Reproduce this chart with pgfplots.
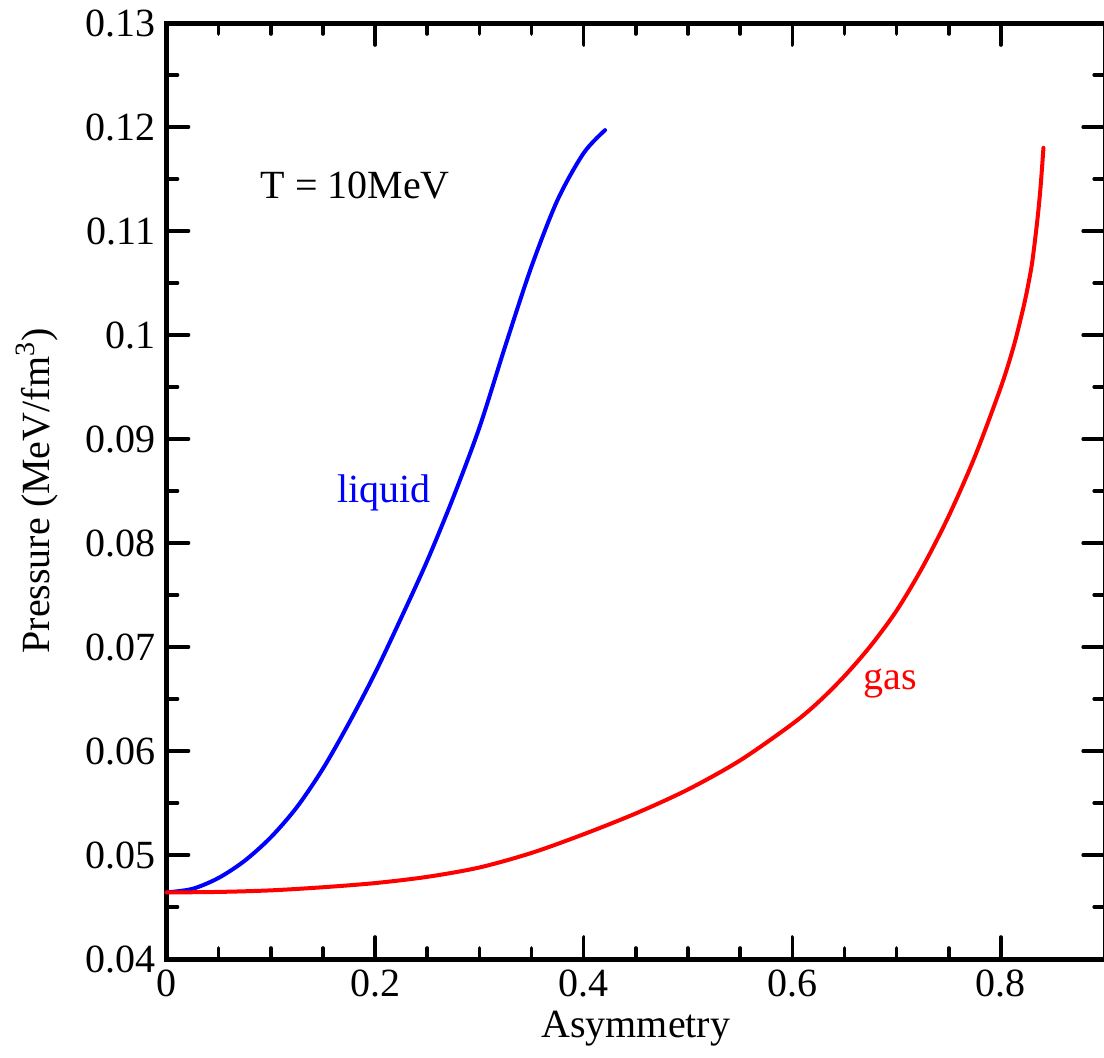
\documentclass[border=0pt]{standalone}
\usepackage{fontspec}
\setmainfont{Liberation Serif}
\usepackage{pgfplots}
\pgfplotsset{compat=1.18}
\usetikzlibrary{calc}

\begin{document}
\begin{tikzpicture}
\begin{axis}[
    scale only axis,
    width=469.35pt, height=468pt,
    xmin=0, xmax=0.9, ymin=0.04, ymax=0.13,
    xtick={0,0.2,0.4,0.6,0.8},
    ytick={0.04,0.05,0.06,0.07,0.08,0.09,0.1,0.11,0.12,0.13},
    minor x tick num=3, minor y tick num=1,
    tick align=inside,
    major tick length=11pt, minor tick length=5.5pt,
    every tick/.style={black, line width=1.8pt, line cap=round},
    axis line style={line width=2.5pt},
    font=\fontsize{20}{24}\selectfont,
    ticklabel style={font=\fontsize{20}{24}\selectfont},
    /pgf/number format/assume math mode=true,
    yticklabel style={/pgf/number format/fixed, /pgf/number format/precision=2},
    xticklabel style={yshift=-2pt},
    yticklabel style={xshift=-2pt},
    xlabel={Asymmetry},
    ylabel={Pressure (MeV/fm\textsuperscript{3})},
    xlabel style={at={(axis description cs:0.5,-0.074)}, anchor=center},
    ylabel style={at={(axis description cs:-0.138,0.5)}, anchor=center},
    clip=false,
]
% liquid branch
\addplot[blue, line width=2pt, smooth, line cap=round] coordinates {
    (0, 0.0464) (0.025, 0.04675) (0.05, 0.0478) (0.075, 0.04945)
    (0.1, 0.0517) (0.125, 0.0546) (0.15, 0.0583) (0.175, 0.0627)
    (0.2, 0.0675) (0.225, 0.0728) (0.25, 0.0783) (0.275, 0.0844)
    (0.3, 0.0911) (0.325, 0.0990) (0.35, 0.1066) (0.375, 0.1130)
    (0.4, 0.1175) (0.4205, 0.1197)
};
% gas branch
\addplot[red, line width=2pt, smooth, line cap=round] coordinates {
    (0, 0.0464) (0.05, 0.04645) (0.1, 0.0466) (0.15, 0.0469) (0.2, 0.0473)
    (0.25, 0.0479) (0.3, 0.0488) (0.35, 0.0502) (0.4, 0.0520) (0.45, 0.0540)
    (0.5, 0.0563) (0.55, 0.0591) (0.6, 0.0626) (0.625, 0.0647) (0.65, 0.0672)
    (0.675, 0.0701) (0.7, 0.0735) (0.725, 0.0777) (0.75, 0.0826)
    (0.775, 0.0883) (0.8, 0.0950) (0.8125, 0.0990)
    (0.8217, 0.1027) (0.8265, 0.1050) (0.8303, 0.1072) (0.835, 0.1111)
    (0.838, 0.1142) (0.8408, 0.1180)
};
\node at (axis cs:0.181,0.1144) {T = 10MeV};
\node[blue] at (axis cs:0.2085,0.0848) {liquid};
\node[red] at (axis cs:0.694,0.0665) {gas};
\end{axis}
\pgfresetboundingbox
\path[use as bounding box] ($(current axis.south west)+(-83.25pt,-49pt)$)
    rectangle ($(current axis.south west)+(468.75pt,479.5pt)$);
\end{tikzpicture}
\end{document}
